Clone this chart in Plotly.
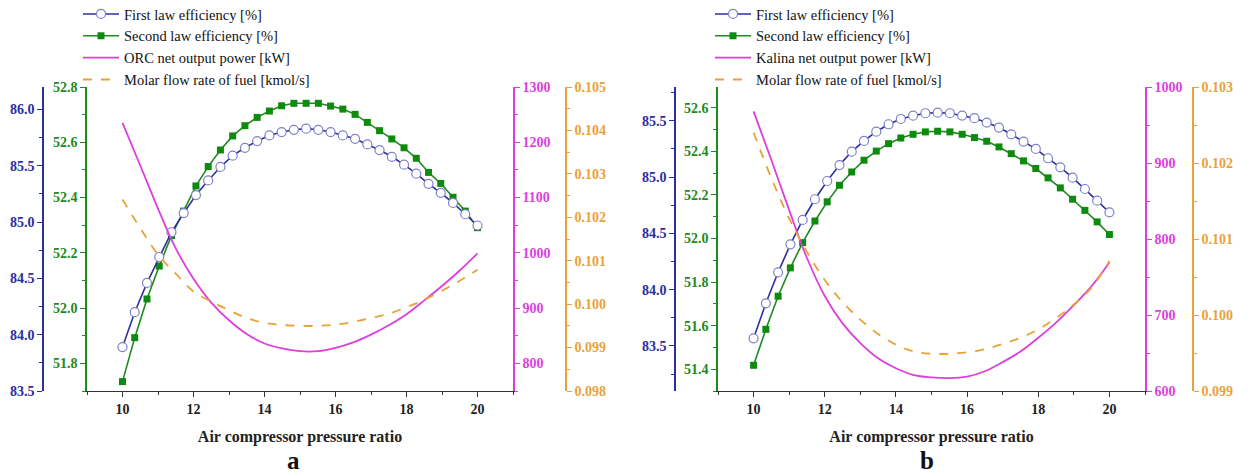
import plotly.graph_objects as go

# ---------------- data ----------------
# marker series: 30 points between 10 and 20
x_pts = [10 + i * 10 / 29 for i in range(30)]
# smooth series sampled every 0.5
x_curve = [10, 10.5, 11, 11.5, 12, 12.5, 13, 13.5, 14, 14.5, 15,
           15.5, 16, 16.5, 17, 17.5, 18, 18.5, 19, 19.5, 20]

first_law_a = [83.89, 84.20, 84.46, 84.69, 84.91, 85.08, 85.24, 85.37, 85.49, 85.59,
               85.66, 85.72, 85.77, 85.80, 85.82, 85.83, 85.82, 85.80, 85.77, 85.74,
               85.69, 85.64, 85.58, 85.51, 85.43, 85.34, 85.26, 85.17, 85.07, 84.97]
second_law_a = [51.734, 51.893, 52.033, 52.152, 52.262, 52.351, 52.442, 52.512, 52.572, 52.623,
                52.660, 52.690, 52.713, 52.732, 52.741, 52.741, 52.741, 52.731, 52.720, 52.701,
                52.672, 52.642, 52.612, 52.580, 52.542, 52.491, 52.451, 52.401, 52.351, 52.291]
orc_power_a = [1235, 1158, 1080, 1008, 953, 910, 878, 853, 836, 827, 822,
               822, 828, 838, 852, 869, 889, 914, 940, 968, 999]
fuel_a = [0.10241, 0.10175, 0.10114, 0.10070, 0.10029, 0.10006, 0.09986, 0.09968, 0.09957,
          0.09952, 0.09950, 0.09950, 0.09953, 0.09959, 0.09968, 0.09978, 0.09993, 0.10010,
          0.10031, 0.10054, 0.10079]

first_law_b = [83.568, 83.879, 84.154, 84.403, 84.619, 84.803, 84.965, 85.107, 85.226, 85.321,
               85.403, 85.469, 85.516, 85.545, 85.567, 85.572, 85.567, 85.546, 85.523, 85.484,
               85.440, 85.380, 85.315, 85.250, 85.167, 85.087, 84.995, 84.894, 84.790, 84.687]
second_law_b = [51.418, 51.583, 51.735, 51.865, 51.981, 52.080, 52.168, 52.244, 52.305, 52.359,
                52.401, 52.435, 52.461, 52.478, 52.489, 52.492, 52.489, 52.478, 52.463, 52.446,
                52.420, 52.389, 52.356, 52.321, 52.278, 52.232, 52.180, 52.129, 52.076, 52.018]
kalina_power_b = [968, 904, 838, 775, 725, 689, 663, 643, 630, 621, 618,
                  617, 619, 626, 638, 652, 670, 690, 713, 738, 769]
fuel_b = [0.10240, 0.10180, 0.10127, 0.10083, 0.10046, 0.10017, 0.09994, 0.09975, 0.09961,
          0.09952, 0.09949, 0.09949, 0.09951, 0.09955, 0.09962, 0.09970, 0.09981, 0.09996,
          0.10014, 0.10036, 0.10071]

x_ticks = [10, 12, 14, 16, 18, 20]

# ---------------- style ----------------
W, H = 1252, 476
BLUE = "#2E2E9E"
BLUE_MK = "#8080C8"
GREEN = "#1E8A1E"
GREEN_MK = "#0E8A0E"
MAGENTA = "#DD3FDD"
ORANGE = "#E8A23A"
FONT = "Liberation Serif, Times New Roman, serif"

def px_x(p):
    return p / W

def px_y(p):
    return 1 - p / H

y_dom = [px_y(391), px_y(87)]
dom_a = [px_x(87), px_x(513)]
dom_b = [px_x(718), px_x(1145)]

tickfont = lambda c: dict(family=FONT, size=14, color=c, weight=700)

fig = go.Figure()

def add_panel(sfx, xs_m, xs_c, fl, sl, pw, fu, pname, leg):
    xa = "x" if sfx == 0 else "x2"
    ys = ["y", "y2", "y3", "y4"] if sfx == 0 else ["y5", "y6", "y7", "y8"]
    fig.add_trace(go.Scatter(x=xs_m, y=fl, xaxis=xa, yaxis=ys[1], mode="lines+markers",
                             name="First law efficiency [%]", legend=leg,
                             line=dict(color=BLUE, width=1.6),
                             marker=dict(symbol="circle", size=9, color="white",
                                         line=dict(color=BLUE_MK, width=1.2))))
    fig.add_trace(go.Scatter(x=xs_m, y=sl, xaxis=xa, yaxis=ys[0], mode="lines+markers",
                             name="Second law efficiency [%]", legend=leg,
                             line=dict(color=GREEN, width=1.6),
                             marker=dict(symbol="square", size=7, color=GREEN_MK)))
    fig.add_trace(go.Scatter(x=xs_c, y=pw, xaxis=xa, yaxis=ys[2], mode="lines",
                             name=pname, legend=leg, line_shape="spline",
                             line=dict(color=MAGENTA, width=1.8)))
    fig.add_trace(go.Scatter(x=xs_c, y=fu, xaxis=xa, yaxis=ys[3], mode="lines",
                             name="Molar flow rate of fuel [kmol/s]", legend=leg,
                             line_shape="spline",
                             line=dict(color=ORANGE, width=1.8, dash="dash")))

add_panel(0, x_pts, x_curve, first_law_a, second_law_a, orc_power_a, fuel_a,
          "ORC net output power [kW]", "legend")
add_panel(1, x_pts, x_curve, first_law_b, second_law_b, kalina_power_b, fuel_b,
          "Kalina net output power [kW]", "legend2")

def xaxis(dom, anchor):
    return dict(domain=dom, anchor=anchor, range=[9, 21], tickvals=x_ticks,
                automargin=False,
                ticks="outside", ticklen=5, tickwidth=1.2, tickcolor="#333",
                showline=True, linecolor="#333", linewidth=1.2, showgrid=False,
                zeroline=False, tickfont=tickfont("#222"),
                minor=dict(dtick=1, tick0=9, ticks="outside", ticklen=3, tickcolor="#333"),
                title=dict(text="Air compressor pressure ratio",
                           font=dict(family=FONT, size=16, color="#222", weight=700),
                           standoff=14))

def yax(color, rng, dtick, tick0, fmt, side, anchor, position=None, overlay=None):
    d = dict(domain=y_dom, range=rng, dtick=dtick, tick0=tick0, tickformat=fmt,
             automargin=False,
             side=side, ticks="outside", ticklen=5, tickwidth=1.2, tickcolor=color,
             showline=True, linecolor=color, linewidth=1.5, showgrid=False,
             zeroline=False, tickfont=tickfont(color),
             minor=dict(dtick=dtick / 2, ticks="outside", ticklen=3, tickcolor=color))
    if anchor == "free":
        d["anchor"] = "free"
        d["position"] = position
    else:
        d["anchor"] = anchor
    if overlay:
        d["overlaying"] = overlay
    return d

legend_common = dict(y=px_y(-2), xanchor="left", yanchor="top", bgcolor="rgba(0,0,0,0)",
                     font=dict(family=FONT, size=14.5, color="#111"), itemwidth=36,
                     tracegroupgap=0, borderwidth=0)

fig.update_layout(
    width=W, height=H, margin=dict(l=0, r=0, t=0, b=0, autoexpand=False),
    paper_bgcolor="white", plot_bgcolor="white",
    xaxis=xaxis(dom_a, "y"),
    xaxis2=xaxis(dom_b, "y5"),
    yaxis=yax(GREEN, [51.7, 52.8], 0.2, 51.8, ".1f", "left", "x"),
    yaxis2=yax(BLUE, [83.5, 86.2], 0.5, 83.5, ".1f", "left", "free", px_x(43), "y"),
    yaxis3=yax(MAGENTA, [750, 1300], 100, 800, "d", "right", "x", overlay="y"),
    yaxis4=yax(ORANGE, [0.098, 0.105], 0.001, 0.098, ".3f", "right", "free", px_x(566), "y"),
    yaxis5=yax(GREEN, [51.3, 52.695], 0.2, 51.4, ".1f", "left", "x2"),
    yaxis6=yax(BLUE, [83.1, 85.8], 0.5, 83.5, ".1f", "left", "free", px_x(675), "y5"),
    yaxis7=yax(MAGENTA, [600, 1000], 100, 600, "d", "right", "x2", overlay="y5"),
    yaxis8=yax(ORANGE, [0.099, 0.103], 0.001, 0.099, ".3f", "right", "free", px_x(1193), "y5"),
    legend=dict(x=px_x(78), **legend_common),
    legend2=dict(x=px_x(710), **legend_common),
    annotations=[
        dict(text="a", x=px_x(293), y=px_y(476), xref="paper", yref="paper",
             xanchor="center", yanchor="bottom",
             showarrow=False, font=dict(family=FONT, size=25, color="#111", weight=700)),
        dict(text="b", x=px_x(927), y=px_y(476), xref="paper", yref="paper",
             xanchor="center", yanchor="bottom",
             showarrow=False, font=dict(family=FONT, size=25, color="#111", weight=700)),
    ],
)

fig.write_html("out.html")
